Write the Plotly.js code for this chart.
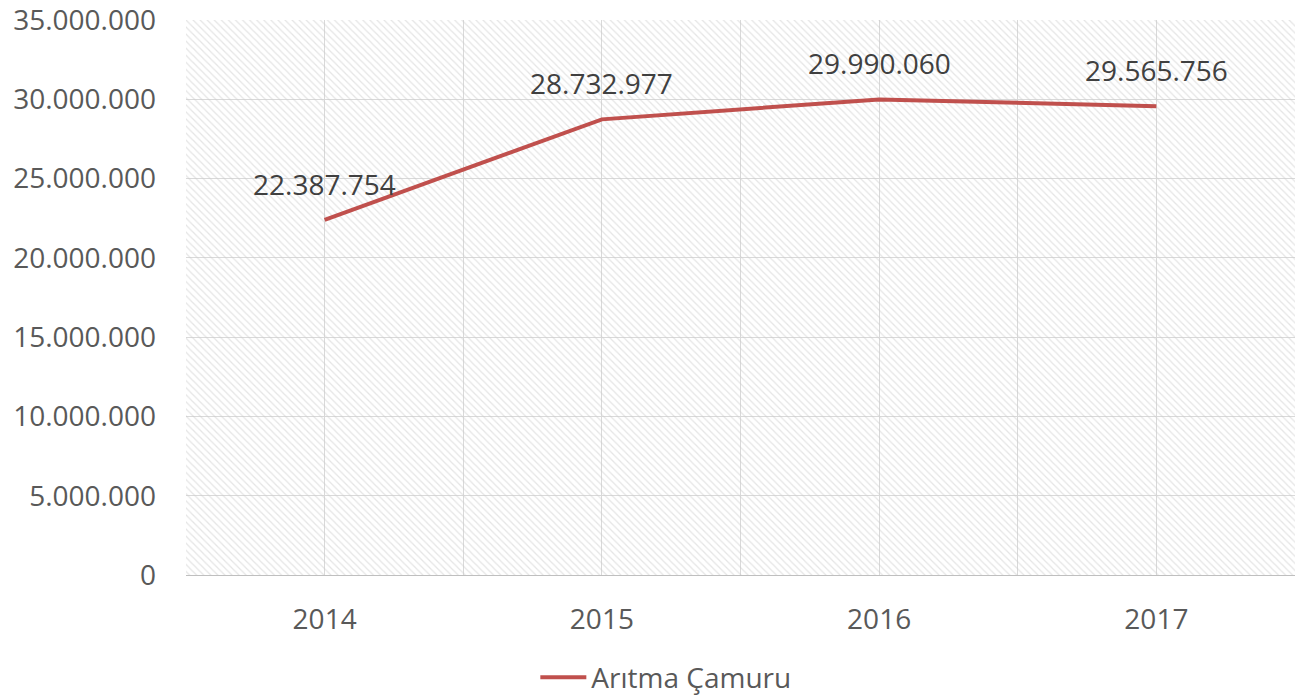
<!DOCTYPE html>
<html>
<head>
<meta charset="utf-8">
<script src="https://cdn.plot.ly/plotly-3.0.1.min.js"></script>
<style>
  html, body { margin: 0; padding: 0; background: #ffffff; }
  #chart { width: 1303px; height: 695px; }
</style>
</head>
<body>
<div id="chart"></div>
<script>
// ---- data ----
const years = [2014, 2015, 2016, 2017];
const values = [22387754, 28732977, 29990060, 29565756];
const seriesName = "Arıtma Çamuru";
const yTickVals = [0, 5000000, 10000000, 15000000, 20000000, 25000000, 30000000, 35000000];

const FONT = "Open Sans, DejaVu Sans, sans-serif";
const lineColor = "#C0504D";

// decorative hatched plot-area background (hidden axes x/y)
const background = {
  type: "bar",
  x: [0.5], y: [1], width: [1],
  xaxis: "x", yaxis: "y",
  marker: {
    color: "rgba(0,0,0,0)",
    line: { width: 0 },
    pattern: { shape: "\\", fgcolor: "#cccccc", size: 5, solidity: 0.25, fillmode: "overlay" }
  },
  hoverinfo: "skip", showlegend: false
};

const series = {
  type: "scatter",
  mode: "lines",
  name: seriesName,
  x: years, y: values,
  xaxis: "x2", yaxis: "y2",
  line: { color: lineColor, width: 4 },
  hoverinfo: "x+y"
};

const fmt = v => v.toString().replace(/\B(?=(\d{3})+(?!\d))/g, ".");

const annotations = years.map((yr, i) => ({
  x: yr, y: values[i], xref: "x2", yref: "y2",
  text: fmt(values[i]), showarrow: false,
  yshift: 36,
  font: { family: FONT, size: 28, color: "#404040" }
}));

const layout = {
  width: 1303, height: 695,
  margin: { l: 186, r: 8, t: 20, b: 120 },
  paper_bgcolor: "#ffffff",
  plot_bgcolor: "rgba(0,0,0,0)",
  separators: ",.",
  showlegend: true,
  font: { family: FONT, size: 28, color: "#595959" },
  xaxis: { visible: false, range: [0, 1], fixedrange: true },
  yaxis: { visible: false, range: [0, 1], fixedrange: true },
  xaxis2: {
    overlaying: "x",
    range: [2013.5, 2017.5],
    tickvals: years,
    tickformat: "d",
    showgrid: true, gridcolor: "#d9d9d9", gridwidth: 1,
    minor: { dtick: 0.5, tick0: 2013.5, showgrid: true, gridcolor: "#d9d9d9", gridwidth: 1 },
    showline: true, linecolor: "#bfbfbf", linewidth: 1,
    zeroline: false,
    ticks: "", ticklabelstandoff: 19,
    ticklabeloverflow: "allow",
    tickfont: { family: FONT, size: 28, color: "#595959" }
  },
  yaxis2: {
    overlaying: "y",
    range: [0, 35000000],
    tickvals: yTickVals,
    tickformat: ",d",
    showgrid: true, gridcolor: "#d9d9d9", gridwidth: 1,
    zeroline: false, showline: false,
    ticks: "", ticklabelstandoff: 29,
    ticklabeloverflow: "allow",
    tickfont: { family: FONT, size: 28, color: "#595959" }
  },
  legend: {
    orientation: "h",
    xref: "container", yref: "container",
    x: 0.511, xanchor: "center",
    y: 0.025, yanchor: "middle",
    itemwidth: 46,
    font: { family: FONT, size: 28, color: "#595959" },
    bgcolor: "rgba(0,0,0,0)"
  },
  annotations: annotations
};

Plotly.newPlot("chart", [background, series], layout, { displayModeBar: false, staticPlot: true });
</script>
</body>
</html>
